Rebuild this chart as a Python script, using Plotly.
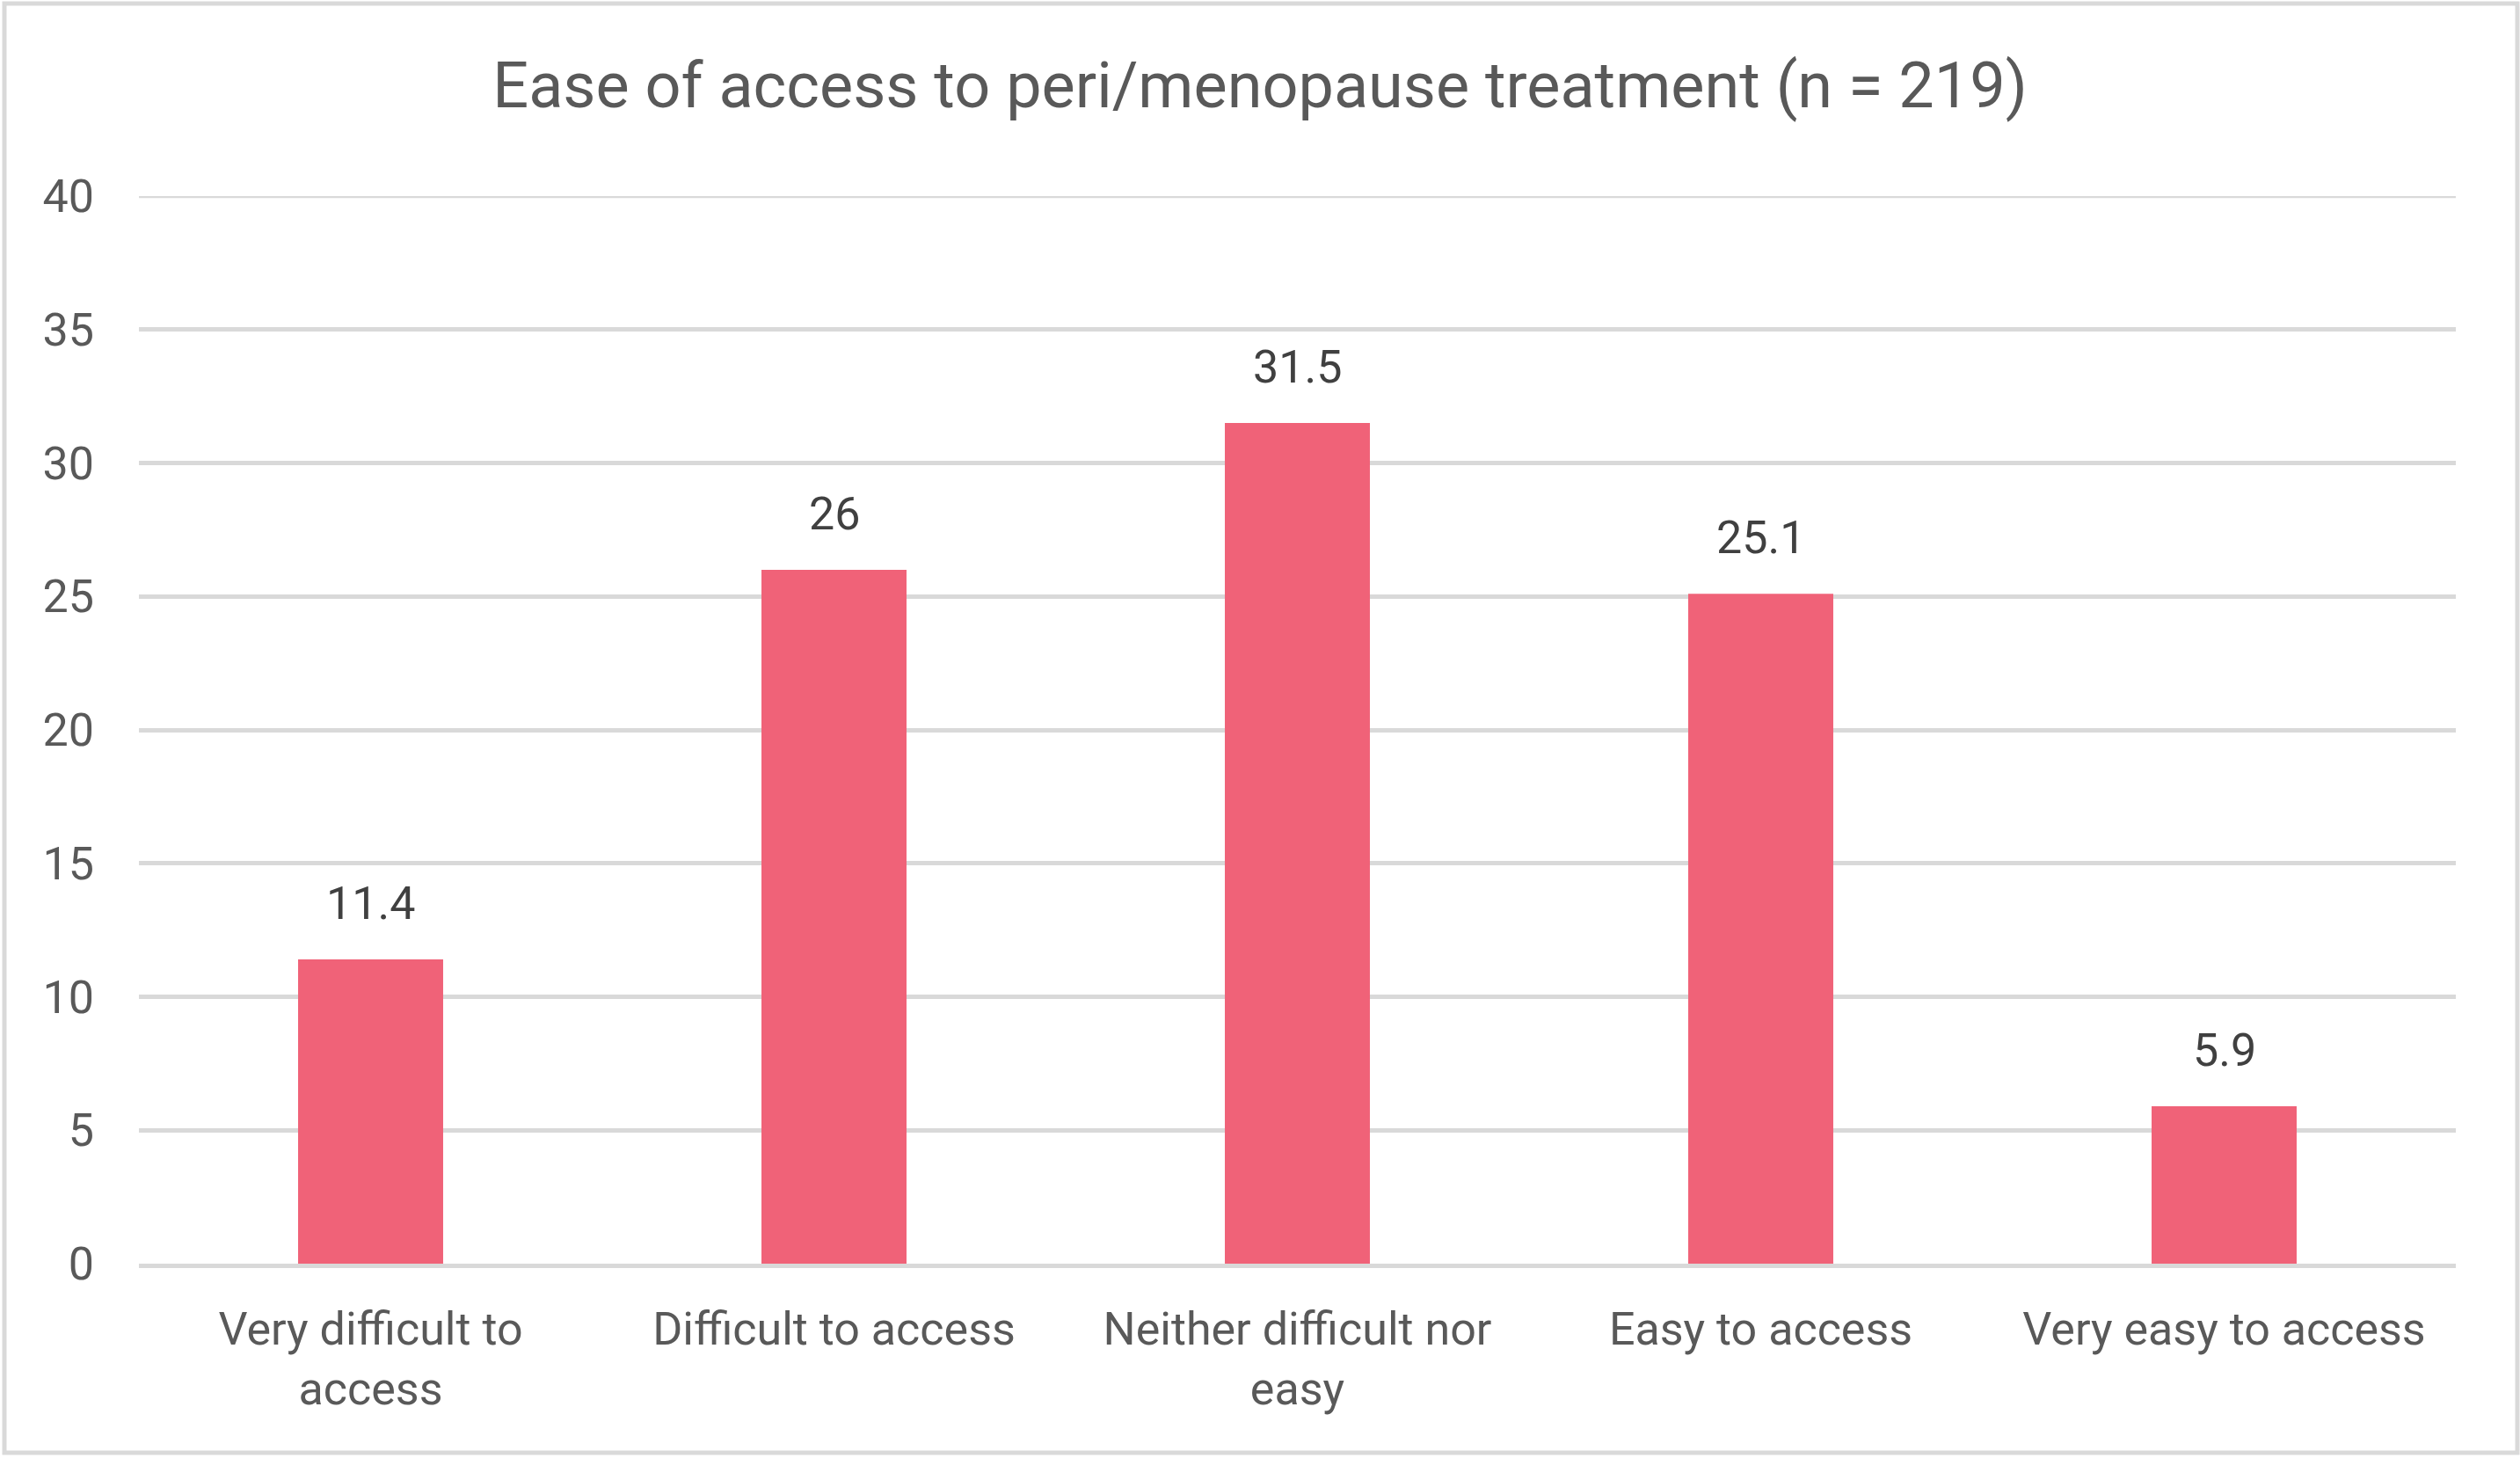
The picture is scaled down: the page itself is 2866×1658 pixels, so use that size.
import plotly.graph_objects as go

# --- data ---
categories = [
    "Very difficult to<br>access",
    "Difficult to access",
    "Neither difficult nor<br>easy",
    "Easy to access",
    "Very easy to access",
]
percentages = [11.4, 26, 31.5, 25.1, 5.9]
y_ticks = [0, 5, 10, 15, 20, 25, 30, 35, 40]

W, H = 2866, 1658
M_L, M_R, M_T, M_B = 158, 73, 223, 221
FONT = "Roboto"
BAR_COLOR = "#F06278"
GRID = "#D9D9D9"

fig = go.Figure()
fig.add_trace(go.Bar(
    x=categories,
    y=percentages,
    marker=dict(color=BAR_COLOR, line=dict(width=0)),
    hoverinfo="x+y",
))

# data labels sit well above the bars, like Excel does it
for cat, val in zip(categories, percentages):
    fig.add_annotation(
        x=cat, y=val, text=f"{val:g}",
        showarrow=False, yanchor="bottom", yshift=31,
        font=dict(family=FONT, size=52, color="#404040"),
    )

# top gridline (plotly drops the one sitting on the range edge)
fig.add_shape(
    type="line", xref="paper", yref="y",
    x0=0, x1=1, y0=y_ticks[-1], y1=y_ticks[-1],
    line=dict(color=GRID, width=4.5), layer="below",
)

# outer chart border
pw = W - M_L - M_R
ph = H - M_T - M_B
fig.add_shape(
    type="rect", xref="paper", yref="paper",
    x0=(5 - M_L) / pw, x1=(W - 3 - M_L) / pw,
    y0=-(M_B - 6) / ph, y1=(H - M_B - 4) / ph,
    line=dict(color=GRID, width=5), fillcolor="rgba(0,0,0,0)", layer="below",
)

fig.update_layout(
    width=W, height=H,
    margin=dict(l=M_L, r=M_R, t=M_T, b=M_B),
    paper_bgcolor="white", plot_bgcolor="white",
    showlegend=False,
    bargap=0.687,
    title=dict(
        text="Ease of access to peri/menopause treatment (n = 219)",
        x=0.5, xref="container", xanchor="center",
        y=1 - 97 / H, yref="container", yanchor="middle",
        font=dict(family=FONT, size=72, color="#595959"),
    ),
    font=dict(family=FONT, color="#595959"),
)
fig.update_yaxes(
    range=[0, 40], tickvals=y_ticks, showgrid=True, gridcolor=GRID, gridwidth=4.5,
    zeroline=False, showline=False, ticks="",
    tickfont=dict(family=FONT, size=52, color="#595959"),
    ticklabelstandoff=50,
)
fig.update_xaxes(
    showline=True, linecolor=GRID, linewidth=4.5, ticks="",
    tickfont=dict(family=FONT, size=52, color="#595959"),
    ticklabelstandoff=25, tickangle=0,
)

# drop the default page margin so the figure sits at the window's corner
fig.write_html(
    "out.html",
    config={"displayModeBar": False},
    post_script="document.body.style.margin='0';",
)
